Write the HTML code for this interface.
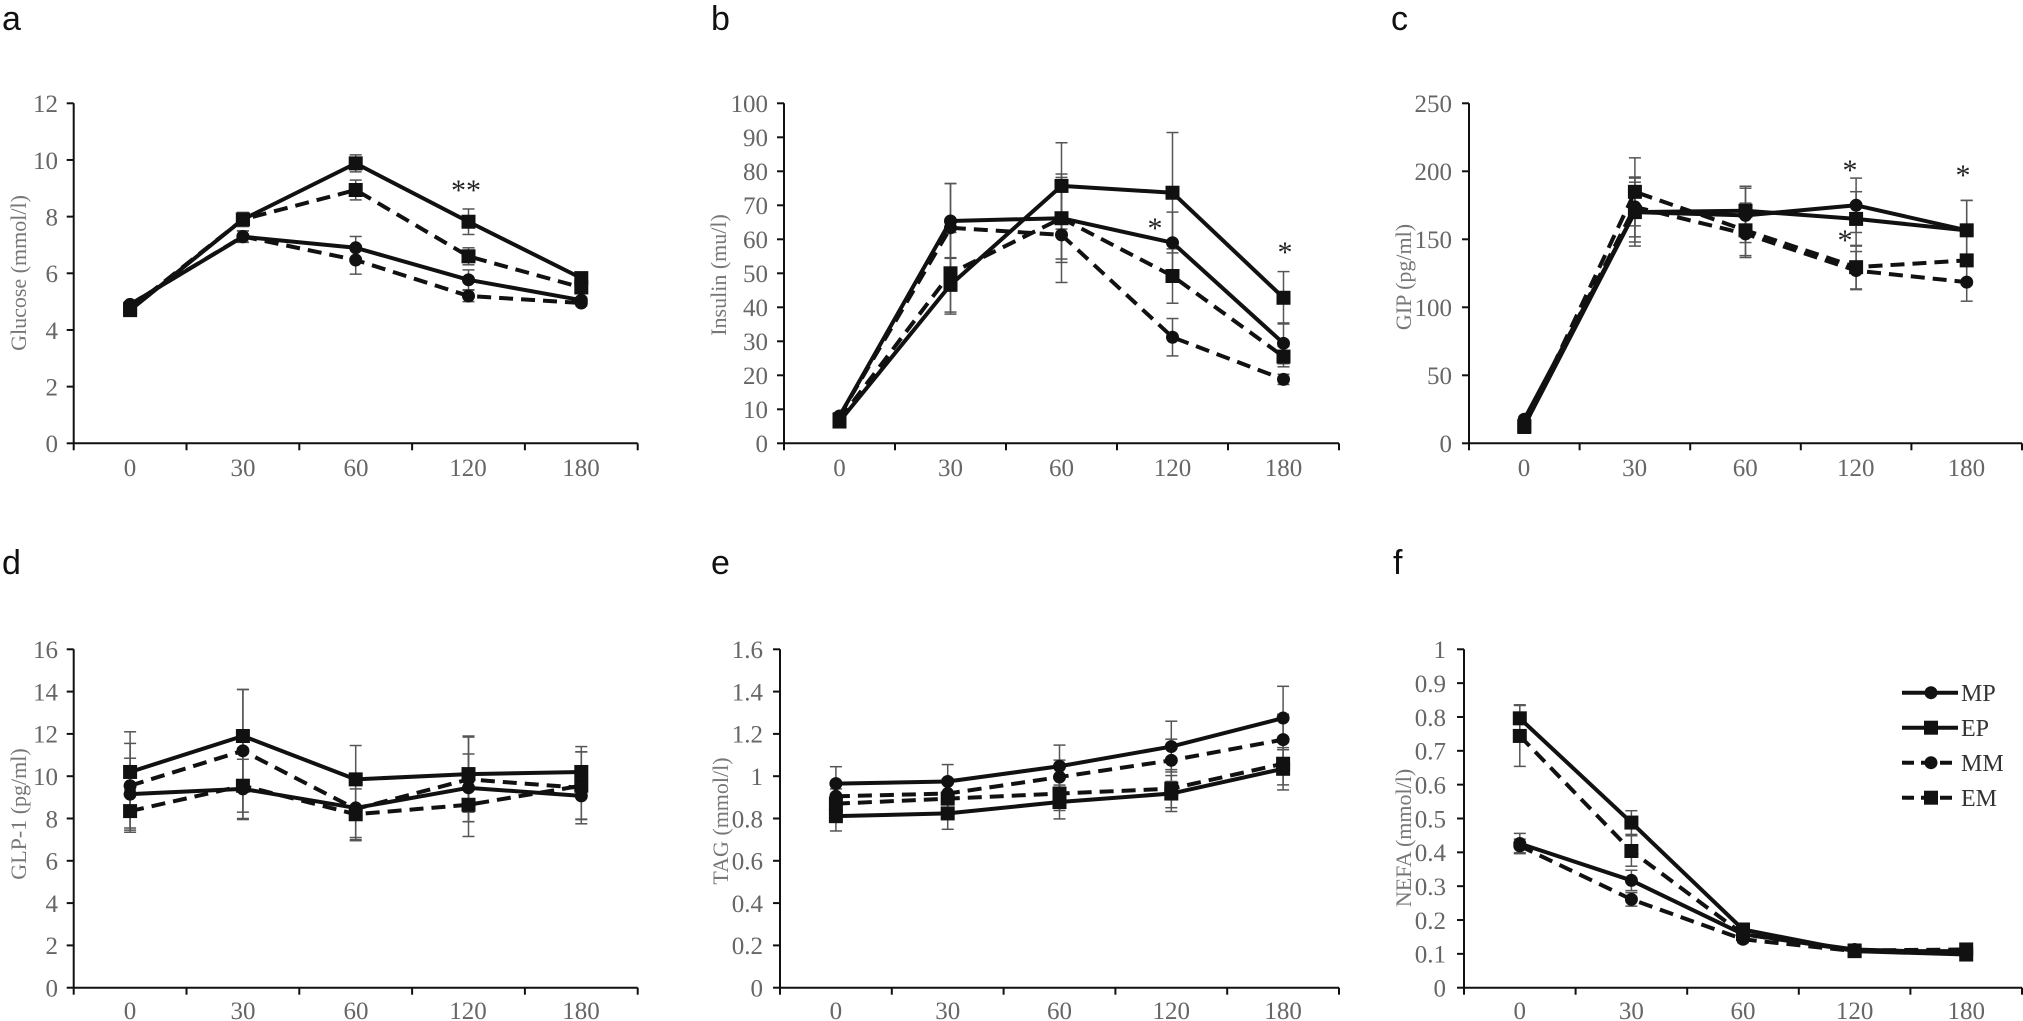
<!DOCTYPE html>
<html><head><meta charset="utf-8"><style>
html,body{margin:0;padding:0;background:#fff;}
svg{display:block;}
.t{font-family:"Liberation Serif",serif;font-size:25px;fill:#666;}
.yt{font-family:"Liberation Serif",serif;font-size:22px;fill:#777;}
.pl{font-family:"Liberation Sans",sans-serif;font-size:34px;fill:#111;}
.st{font-family:"Liberation Serif",serif;font-size:30px;fill:#222;}
.lg{font-family:"Liberation Serif",serif;font-size:24px;fill:#333;}
</style></head><body>
<svg id="s" width="2023" height="1021" viewBox="0 0 2023 1021" xmlns="http://www.w3.org/2000/svg">
<g id="g"></g>
<!-- panel labels -->
<text class="pl" x="2" y="30">a</text>
<text class="pl" x="711" y="30">b</text>
<text class="pl" x="1391" y="30">c</text>
<text class="pl" x="2" y="574">d</text>
<text class="pl" x="711" y="574">e</text>
<text class="pl" x="1393" y="574">f</text>
<!-- y titles -->
<text class="yt" transform="translate(26,273) rotate(-90)" text-anchor="middle">Glucose (mmol/l)</text>
<text class="yt" transform="translate(726,275) rotate(-90)" text-anchor="middle">Insulin (mu/l)</text>
<text class="yt" transform="translate(1411,277) rotate(-90)" text-anchor="middle">GIP  (pg/ml)</text>
<text class="yt" transform="translate(26,814) rotate(-90)" text-anchor="middle">GLP-1  (pg/ml)</text>
<text class="yt" transform="translate(728,821) rotate(-90)" text-anchor="middle">TAG (mmol/l)</text>
<text class="yt" transform="translate(1411,838) rotate(-90)" text-anchor="middle">NEFA  (mmol/l)</text>
<!-- a y ticks -->
<g class="t" text-anchor="end">
<text x="58" y="443.3" dy="0.35em">0</text><text x="58" y="386.7" dy="0.35em">2</text><text x="58" y="330" dy="0.35em">4</text><text x="58" y="273.3" dy="0.35em">6</text><text x="58" y="216.7" dy="0.35em">8</text><text x="58" y="160" dy="0.35em">10</text><text x="58" y="103.3" dy="0.35em">12</text>
<text x="768" y="443.3" dy="0.35em">0</text><text x="768" y="409.3" dy="0.35em">10</text><text x="768" y="375.3" dy="0.35em">20</text><text x="768" y="341.3" dy="0.35em">30</text><text x="768" y="307.3" dy="0.35em">40</text><text x="768" y="273.3" dy="0.35em">50</text><text x="768" y="239.3" dy="0.35em">60</text><text x="768" y="205.3" dy="0.35em">70</text><text x="768" y="171.3" dy="0.35em">80</text><text x="768" y="137.3" dy="0.35em">90</text><text x="768" y="103.3" dy="0.35em">100</text>
<text x="1452" y="443.3" dy="0.35em">0</text><text x="1452" y="375.3" dy="0.35em">50</text><text x="1452" y="307.3" dy="0.35em">100</text><text x="1452" y="239.3" dy="0.35em">150</text><text x="1452" y="171.3" dy="0.35em">200</text><text x="1452" y="103.3" dy="0.35em">250</text>
<text x="58" y="987.7" dy="0.35em">0</text><text x="58" y="945.4" dy="0.35em">2</text><text x="58" y="903.1" dy="0.35em">4</text><text x="58" y="860.8" dy="0.35em">6</text><text x="58" y="818.5" dy="0.35em">8</text><text x="58" y="776.2" dy="0.35em">10</text><text x="58" y="733.9" dy="0.35em">12</text><text x="58" y="691.6" dy="0.35em">14</text><text x="58" y="649.3" dy="0.35em">16</text>
<text x="763" y="987.7" dy="0.35em">0</text><text x="763" y="945.4" dy="0.35em">0.2</text><text x="763" y="903.1" dy="0.35em">0.4</text><text x="763" y="860.8" dy="0.35em">0.6</text><text x="763" y="818.5" dy="0.35em">0.8</text><text x="763" y="776.2" dy="0.35em">1</text><text x="763" y="733.9" dy="0.35em">1.2</text><text x="763" y="691.6" dy="0.35em">1.4</text><text x="763" y="649.3" dy="0.35em">1.6</text>
<text x="1446" y="987.7" dy="0.35em">0</text><text x="1446" y="953.9" dy="0.35em">0.1</text><text x="1446" y="920" dy="0.35em">0.2</text><text x="1446" y="886.2" dy="0.35em">0.3</text><text x="1446" y="852.3" dy="0.35em">0.4</text><text x="1446" y="818.5" dy="0.35em">0.5</text><text x="1446" y="784.7" dy="0.35em">0.6</text><text x="1446" y="750.8" dy="0.35em">0.7</text><text x="1446" y="717" dy="0.35em">0.8</text><text x="1446" y="683.1" dy="0.35em">0.9</text><text x="1446" y="649.3" dy="0.35em">1</text>
</g>
<!-- x ticks labels -->
<g class="t" text-anchor="middle">
<text x="130" y="476">0</text><text x="243" y="476">30</text><text x="356" y="476">60</text><text x="468" y="476">120</text><text x="581" y="476">180</text>
<text x="839.5" y="476">0</text><text x="950.5" y="476">30</text><text x="1061.5" y="476">60</text><text x="1172.5" y="476">120</text><text x="1283.5" y="476">180</text>
<text x="1524" y="476">0</text><text x="1634.6" y="476">30</text><text x="1745.2" y="476">60</text><text x="1855.8" y="476">120</text><text x="1966.4" y="476">180</text>
<text x="130" y="1019">0</text><text x="243" y="1019">30</text><text x="356" y="1019">60</text><text x="468" y="1019">120</text><text x="581" y="1019">180</text>
<text x="835.9" y="1019">0</text><text x="947.7" y="1019">30</text><text x="1059.5" y="1019">60</text><text x="1171.3" y="1019">120</text><text x="1283.1" y="1019">180</text>
<text x="1519.8" y="1019">0</text><text x="1631.4" y="1019">30</text><text x="1743" y="1019">60</text><text x="1854.6" y="1019">120</text><text x="1966.2" y="1019">180</text>
</g>
<!-- significance -->
<g class="st" text-anchor="middle">
<text x="466" y="200">**</text>
<text x="1155" y="238">*</text>
<text x="1285" y="262">*</text>
<text x="1850" y="180">*</text>
<text x="1845" y="250">*</text>
<text x="1963" y="185">*</text>
</g>
<!-- legend text -->
<g class="lg">
<text x="1961" y="692.7" dy="0.35em">MP</text>
<text x="1961" y="727.7" dy="0.35em">EP</text>
<text x="1961" y="762.7" dy="0.35em">MM</text>
<text x="1961" y="797.7" dy="0.35em">EM</text>
</g>
</svg>
<script>
(function(){
var NS="http://www.w3.org/2000/svg",g=document.getElementById('g');
function el(n,a){var e=document.createElementNS(NS,n);for(var k in a)e.setAttribute(k,a[k]);g.appendChild(e);return e;}
var P=[
{X0:73.7,W:112.8,y0:443.3,yt:103.3,max:12,
 s:{MP:[4.9,7.29,6.9,5.77,5.05],EP:[4.7,7.9,9.88,7.82,5.83],MM:[4.9,7.3,6.47,5.2,4.95],EM:[4.75,7.9,8.94,6.6,5.5]},
 e:{MP:[.1,.2,.4,.35,.1],EP:[.1,.25,.3,.45,.15],MM:[.1,.2,.5,.2,.1],EM:[.1,.2,.35,.3,.15]}},
{X0:784,W:111,y0:443.3,yt:103.3,max:100,
 s:{MP:[8,65.4,66.2,59,29.4],EP:[6.4,46.6,75.7,73.7,42.8],MM:[8,63.4,61.3,31.2,18.8],EM:[7,50,66.2,49.2,25.5]},
 e:{MP:[1,11,12,9,6],EP:[1,8,12.7,17.7,7.7],MM:[1,13,14,5.5,1.5],EM:[1,12,13,8,3]}},
{X0:1469,W:110.6,y0:443.3,yt:103.3,max:250,
 s:{MP:[17.7,170,167.6,175,156.6],EP:[12.8,170,171,165,156.6],MM:[15,173.8,154,127,118.5],EM:[12,184.9,156.6,129.5,134.5]},
 e:{MP:[2,25,20,20,22],EP:[2,22,18,20,22],MM:[2,22,16,14,14],EM:[2,25,20,16,18]}},
{X0:73.7,W:112.8,y0:987.7,yt:649.3,max:16,
 s:{MP:[9.15,9.4,8.5,9.45,9.07],EP:[10.2,11.9,9.85,10.1,10.2],MM:[9.55,11.2,8.45,9.85,9.45],EM:[8.35,9.55,8.2,8.65,9.55]},
 e:{MP:[1.7,1.4,1.4,1.6,1.1],EP:[1.9,2.2,1.6,1.8,1.2],MM:[2,2.9,1.5,2,1.7],EM:[1,1.6,1.2,1.5,1.6]}},
{X0:780,W:111.8,y0:987.7,yt:649.3,max:1.6,
 s:{MP:[.965,.975,1.047,1.14,1.275],EP:[.811,.824,.878,.918,1.035],MM:[.905,.918,.996,1.075,1.173],EM:[.87,.894,.918,.941,1.059]},
 e:{MP:[.08,.08,.1,.12,.15],EP:[.07,.075,.08,.085,.1],MM:[.07,.07,.08,.1,.12],EM:[.07,.07,.08,.09,.1]}},
{X0:1464,W:111.6,y0:987.7,yt:649.3,max:1,
 s:{MP:[.426,.317,.158,.113,.103],EP:[.796,.488,.172,.108,.098],MM:[.419,.261,.143,.108,.108],EM:[.744,.404,.158,.11,.113]},
 e:{MP:[.03,.03,.01,.01,.01],EP:[.04,.035,.01,.01,.01],MM:[.02,.02,.01,.01,.01],EM:[.09,.045,.01,.01,.01]}}
];
var style={MP:{d:0,m:'c'},EP:{d:0,m:'s'},MM:{d:1,m:'c'},EM:{d:1,m:'s'}};
function marker(x,y,m){
 if(m==='s')el('rect',{x:x-7,y:y-7,width:14,height:14,fill:'#111'});
 else el('circle',{cx:x,cy:y,r:6.5,fill:'#111'});
}
P.forEach(function(p){
 var X1=p.X0+5*p.W,sc=(p.y0-p.yt)/p.max;
 function Y(v){return p.y0-v*sc;}
 function X(i){return p.X0+p.W*(i+0.5);}
 // axes
 el('line',{x1:p.X0,y1:p.yt,x2:p.X0,y2:p.y0,stroke:'#111','stroke-width':2});
 el('line',{x1:p.X0,y1:p.y0,x2:X1,y2:p.y0,stroke:'#111','stroke-width':2});
 var n=Math.round(p.max/(p.yt===103.3?(p.max==12?2:p.max==100?10:50):(p.max==16?2:p.max==1.6?.2:.1)));
 for(var k=0;k<=n;k++){var yy=p.y0-(p.y0-p.yt)*k/n;el('line',{x1:p.X0-7,y1:yy,x2:p.X0,y2:yy,stroke:'#111','stroke-width':2});}
 for(var i=0;i<=5;i++){var xx=p.X0+p.W*i;el('line',{x1:xx,y1:p.y0,x2:xx,y2:p.y0+7,stroke:'#111','stroke-width':2});}
 // error bars
 ['MP','EP','MM','EM'].forEach(function(k){
  p.s[k].forEach(function(v,i){var x=X(i),e=p.e[k][i];
   el('line',{x1:x,y1:Y(v-e),x2:x,y2:Y(v+e),stroke:'#555','stroke-width':1.5});
   el('line',{x1:x-6,y1:Y(v+e),x2:x+6,y2:Y(v+e),stroke:'#555','stroke-width':1.5});
   el('line',{x1:x-6,y1:Y(v-e),x2:x+6,y2:Y(v-e),stroke:'#555','stroke-width':1.5});
  });
 });
 ['MM','EM','MP','EP'].forEach(function(k){
  var pts=p.s[k].map(function(v,i){return X(i)+','+Y(v);}).join(' ');
  var a={points:pts,fill:'none',stroke:'#111','stroke-width':4,'stroke-linejoin':'round'};
  if(style[k].d)a['stroke-dasharray']='14 8';
  el('polyline',a);
  p.s[k].forEach(function(v,i){marker(X(i),Y(v),style[k].m);});
 });
});
// legend
var L=[['MP',692.7],['EP',727.7],['MM',762.7],['EM',797.7]];
L.forEach(function(l){var k=l[0],y=l[1];
 var a={x1:1902,y1:y,x2:1958,y2:y,stroke:'#111','stroke-width':4};
 if(style[k].d)a['stroke-dasharray']='12 7';
 el('line',a);marker(1931,y,style[k].m);
});
})();
</script>
</body></html>
